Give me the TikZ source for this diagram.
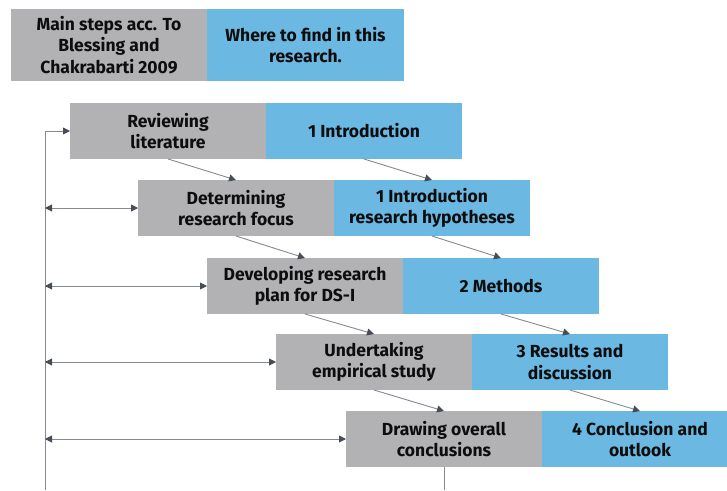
\documentclass[tikz,border=0pt]{standalone}
\usepackage{fontspec}
\setmainfont{Fira Sans}
\usetikzlibrary{arrows.meta,positioning}
\definecolor{stepgray}{HTML}{B2B2B4}
\definecolor{stepblue}{HTML}{6BB8E2}
\definecolor{linegray}{HTML}{858A90}
\definecolor{tipgray}{HTML}{474D55}
\tikzset{
  stepbox/.style={fill=stepgray,minimum width=196pt,minimum height=56pt,
    inner sep=0pt,outer sep=0pt,align=center,font=\bfseries\fontsize{17.5}{21.5}\selectfont,
    text=black!95},
  chapbox/.style={stepbox,fill=stepblue},
  link/.style={draw=linegray,line width=0.9pt,
    -{Triangle[length=7pt,width=7pt,color=tipgray]}},
  loop/.style={link,{Triangle[length=7pt,width=7pt,color=tipgray]}-{Triangle[length=7pt,width=7pt,color=tipgray]}}
}
\begin{document}
\begin{tikzpicture}[x=1pt,y=-1pt]
    \clip (0,0) rectangle (727,490);
    \fill[white] (0,0) rectangle (727,490);
    %% Header
    \node[stepbox,minimum height=72pt,anchor=north west] (h1) at (11,9)
        {Main steps acc. To\\Blessing and\\Chakrabarti 2009};
    \node[chapbox,minimum width=197pt,minimum height=72pt,right=0pt of h1] (h2)
        {Where to find in this\\research.};
    %% Steps
    \foreach \i/\x/\y/\l/\r in {
        1/70/103/{Reviewing\\literature}/{1 Introduction},
        2/138/180/{Determining\\research focus}/{1 Introduction\\research hypotheses},
        3/207/258/{Developing research\\plan for DS-I}/{2 Methods},
        4/276/334/{Undertaking\\empirical study}/{3 Results and\\discussion},
        5/346/411/{Drawing overall\\conclusions}/{4 Conclusion and\\outlook}}
    {
        \node[stepbox,anchor=north west] (g\i) at (\x,\y) {\l};
        \node[chapbox,right=0pt of g\i] (b\i) {\r};
    }
    %% Arrows between rows
    \foreach \i [evaluate=\i as \j using int(\i+1)] in {1,...,4}
    {
        \draw[link] (g\i.south) -- (g\j.north);
        \draw[link] (b\i.south) -- (b\j.north);
    }
    %% Feedback lines
    \coordinate (top) at (45,0 |- g1.west);
    \coordinate (bot) at (45,490);
    \draw[link] (bot) -- (top) -- (g1.west);
    \foreach \i in {2,...,5}
        \draw[loop] (top |- g\i.west) -- (g\i.west);
    \draw[draw=linegray,line width=0.9pt] (g5.south) -- (g5.south |- bot);
\end{tikzpicture}
\end{document}
